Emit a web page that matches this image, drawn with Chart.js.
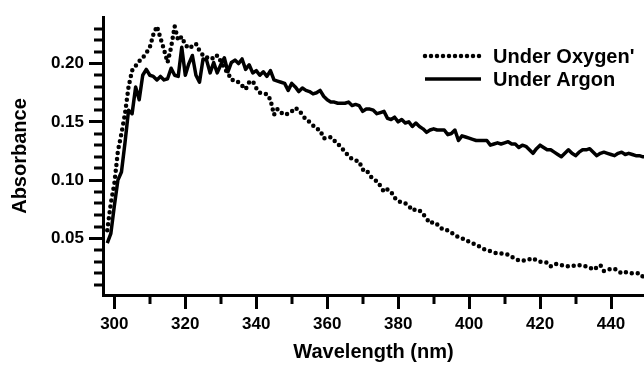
<!DOCTYPE html>
<html>
<head>
<meta charset="utf-8">
<script src="https://cdn.jsdelivr.net/npm/chart.js@4.4.1/dist/chart.umd.min.js"></script>
<style>
  body { margin: 0; background: #fff; }
  #wrap { width: 644px; height: 370px; }
</style>
</head>
<body>
<div id="wrap"><canvas id="absChart" width="644" height="370"></canvas></div>
<script>
// wavelength grid (nm)
var wavelength = [
  298, 299, 300, 301, 302, 303, 304, 305, 306, 307,
  308, 309, 310, 311, 312, 313, 314, 315, 316, 317,
  318, 319, 320, 321, 322, 323, 324, 325, 326, 327,
  328, 329, 330, 331, 332, 333, 334, 335, 336, 337,
  338, 339, 340, 341, 342, 343, 344, 345, 346, 347,
  348, 349, 350, 351, 352, 353, 354, 355, 356, 357,
  358, 359, 360, 361, 362, 363, 364, 365, 366, 367,
  368, 369, 370, 371, 372, 373, 374, 375, 376, 377,
  378, 379, 380, 381, 382, 383, 384, 385, 386, 387,
  388, 389, 390, 391, 392, 393, 394, 395, 396, 397,
  398, 399, 400, 401, 402, 403, 404, 405, 406, 407,
  408, 409, 410, 411, 412, 413, 414, 415, 416, 417,
  418, 419, 420, 421, 422, 423, 424, 425, 426, 427,
  428, 429, 430, 431, 432, 433, 434, 435, 436, 437,
  438, 439, 440, 441, 442, 443, 444, 445, 446, 447,
  448, 449, 450
];

var underOxygen = [
  0.057, 0.080, 0.097, 0.125, 0.140, 0.157, 0.180, 0.194, 0.198, 0.202,
  0.205, 0.209, 0.214, 0.225, 0.232, 0.222, 0.212, 0.201, 0.214, 0.232,
  0.220, 0.223, 0.216, 0.213, 0.215, 0.217, 0.211, 0.207, 0.205, 0.206,
  0.204, 0.207, 0.202, 0.196, 0.192, 0.186, 0.186, 0.184, 0.181, 0.178,
  0.184, 0.185, 0.179, 0.175, 0.174, 0.174, 0.169, 0.156, 0.161, 0.158,
  0.156, 0.157, 0.159, 0.162, 0.160, 0.156, 0.152, 0.150, 0.147, 0.144,
  0.143, 0.136, 0.136, 0.137, 0.134, 0.131, 0.128, 0.124, 0.121, 0.118,
  0.117, 0.116, 0.109, 0.109, 0.104, 0.101, 0.099, 0.095, 0.090, 0.092,
  0.090, 0.085, 0.082, 0.081, 0.080, 0.078, 0.074, 0.075, 0.074, 0.071,
  0.067, 0.063, 0.064, 0.062, 0.059, 0.057, 0.057, 0.055, 0.053, 0.051,
  0.050, 0.049, 0.047, 0.046, 0.044, 0.043, 0.041, 0.040, 0.039, 0.038,
  0.037, 0.037, 0.037, 0.036, 0.034, 0.033, 0.031, 0.031, 0.031, 0.032,
  0.033, 0.031, 0.030, 0.030, 0.029, 0.026, 0.028, 0.028, 0.027, 0.026,
  0.026, 0.026, 0.027, 0.027, 0.026, 0.026, 0.025, 0.023, 0.025, 0.027,
  0.022, 0.023, 0.024, 0.024, 0.022, 0.020, 0.021, 0.021, 0.020, 0.020,
  0.020, 0.017, 0.015
];

var underArgon = [
  0.046, 0.054, 0.078, 0.100, 0.107, 0.132, 0.160, 0.157, 0.180, 0.169,
  0.190, 0.195, 0.190, 0.189, 0.186, 0.189, 0.186, 0.187, 0.196, 0.190,
  0.189, 0.214, 0.190, 0.200, 0.207, 0.190, 0.184, 0.204, 0.203, 0.192,
  0.201, 0.192, 0.199, 0.205, 0.193, 0.201, 0.203, 0.200, 0.204, 0.195,
  0.199, 0.192, 0.194, 0.190, 0.193, 0.189, 0.194, 0.186, 0.185, 0.184,
  0.183, 0.177, 0.183, 0.180, 0.176, 0.179, 0.177, 0.176, 0.174, 0.175,
  0.177, 0.172, 0.169, 0.167, 0.167, 0.166, 0.166, 0.166, 0.167, 0.164,
  0.165, 0.164, 0.159, 0.161, 0.161, 0.160, 0.157, 0.158, 0.159, 0.153,
  0.152, 0.154, 0.150, 0.152, 0.149, 0.150, 0.146, 0.149, 0.146, 0.144,
  0.141, 0.143, 0.144, 0.143, 0.143, 0.143, 0.139, 0.140, 0.143, 0.134,
  0.138, 0.137, 0.136, 0.135, 0.134, 0.134, 0.134, 0.134, 0.130, 0.131,
  0.132, 0.131, 0.132, 0.133, 0.131, 0.131, 0.128, 0.130, 0.129, 0.126,
  0.123, 0.127, 0.130, 0.128, 0.126, 0.126, 0.124, 0.122, 0.120, 0.123,
  0.126, 0.123, 0.121, 0.124, 0.126, 0.126, 0.127, 0.124, 0.121, 0.123,
  0.124, 0.123, 0.122, 0.121, 0.123, 0.124, 0.122, 0.123, 0.122, 0.121,
  0.121, 0.120, 0.120
];

// axis ticks
var xMajor = [300, 320, 340, 360, 380, 400, 420, 440];
var xMinor = [310, 330, 350, 370, 390, 410, 430];
var yMajor = [0.05, 0.10, 0.15, 0.20];
var yMinor = [0.01, 0.02, 0.03, 0.04, 0.06, 0.07, 0.08, 0.09, 0.11, 0.12, 0.13, 0.14,
              0.16, 0.17, 0.18, 0.19, 0.21, 0.22, 0.23];

function pts(ys) {
  return wavelength.map(function (w, i) { return { x: w, y: ys[i] }; });
}

var FONT = '"Liberation Sans", Arial, sans-serif';

// short outward minor ticks
var minorTicks = {
  id: 'minorTicks',
  afterDraw: function (chart) {
    var ctx = chart.ctx, a = chart.chartArea;
    var xs = chart.scales.x, ys = chart.scales.y;
    ctx.save();
    ctx.strokeStyle = '#000';
    ctx.lineWidth = 3;
    xMinor.forEach(function (v) {
      var px = Math.round(xs.getPixelForValue(v));
      ctx.beginPath();
      ctx.moveTo(px, a.bottom);
      ctx.lineTo(px, a.bottom + 9);
      ctx.stroke();
    });
    yMinor.forEach(function (v) {
      var py = Math.round(ys.getPixelForValue(v));
      ctx.beginPath();
      ctx.moveTo(a.left, py);
      ctx.lineTo(a.left - 9, py);
      ctx.stroke();
    });
    ctx.restore();
  }
};

// legend in the upper right, drawn from the dataset styles
var cornerLegend = {
  id: 'cornerLegend',
  afterDraw: function (chart) {
    var ctx = chart.ctx, a = chart.chartArea;
    var x0 = a.right - 221;
    ctx.save();
    chart.data.datasets.forEach(function (ds, i) {
      var y = a.top + 39 + i * 23;
      ctx.beginPath();
      ctx.setLineDash(ds.borderDash || []);
      ctx.lineCap = ds.borderCapStyle || 'butt';
      ctx.lineWidth = ds.borderWidth;
      ctx.strokeStyle = ds.borderColor;
      ctx.moveTo(x0 + 2, y);
      ctx.lineTo(x0 + 58, y);
      ctx.stroke();
      ctx.setLineDash([]);
      ctx.fillStyle = '#000';
      ctx.font = 'bold 20px ' + FONT;
      ctx.textBaseline = 'middle';
      ctx.fillText(ds.label, x0 + 70, y + 1);
    });
    ctx.restore();
  }
};

var ctx = document.getElementById('absChart').getContext('2d');
var myChart = new Chart(ctx, {
  type: 'line',
  data: {
    datasets: [{
      label: "Under Oxygen'",
      data: pts(underOxygen),
      borderColor: '#000',
      borderWidth: 4.5,
      borderDash: [0, 6],
      borderCapStyle: 'round',
      pointRadius: 0,
      tension: 0,
      fill: false
    }, {
      label: 'Under Argon',
      data: pts(underArgon),
      borderColor: '#000',
      borderWidth: 3.5,
      borderJoinStyle: 'round',
      pointRadius: 0,
      tension: 0,
      fill: false
    }]
  },
  options: {
    responsive: false,
    animation: false,
    devicePixelRatio: 1,
    layout: { padding: { top: 17, right: 0, left: 0, bottom: 0 } },
    plugins: {
      legend: { display: false },
      tooltip: { enabled: false }
    },
    scales: {
      x: {
        type: 'linear',
        min: 296.8,
        max: 449.3,
        afterBuildTicks: function (s) { s.ticks = xMajor.map(function (v) { return { value: v }; }); },
        afterFit: function (s) { s.height = 75; },
        grid: { drawOnChartArea: false, tickLength: 14, tickWidth: 3, tickColor: '#000' },
        border: { color: '#000', width: 3 },
        ticks: {
          color: '#000',
          padding: 5,
          maxRotation: 0,
          font: { family: FONT, size: 17, weight: 'bold' }
        },
        title: {
          display: true,
          text: 'Wavelength (nm)',
          color: '#000',
          padding: { top: 0, bottom: 6 },
          font: { family: FONT, size: 20, weight: 'bold' }
        }
      },
      y: {
        min: 0.0014,
        max: 0.24,
        afterBuildTicks: function (s) { s.ticks = yMajor.map(function (v) { return { value: v }; }); },
        afterFit: function (s) { s.width = 103; },
        grid: { drawOnChartArea: false, tickLength: 14, tickWidth: 3, tickColor: '#000' },
        border: { color: '#000', width: 3 },
        ticks: {
          color: '#000',
          padding: 5,
          font: { family: FONT, size: 17, weight: 'bold' },
          callback: function (v) { return v.toFixed(2); }
        },
        title: {
          display: true,
          text: 'Absorbance',
          color: '#000',
          padding: { top: 8, bottom: 0 },
          font: { family: FONT, size: 20, weight: 'bold' }
        }
      }
    }
  },
  plugins: [minorTicks, cornerLegend]
});
</script>
</body>
</html>
